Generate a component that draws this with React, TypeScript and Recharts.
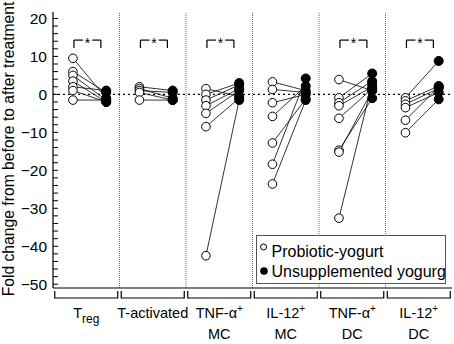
import {
  ComposedChart,
  Line,
  Scatter,
  XAxis,
  YAxis,
  ReferenceLine,
  ReferenceDot,
  Legend
} from 'recharts';

// one entry per cell population (panel)
const xLabelMain = ['T', 'T-activated', 'TNF-α', 'IL-12', 'TNF-α', 'IL-12'];
const xLabelSub = ['reg', '', '', '', '', ''];
const xLabelSup = ['', '', '+', '+', '+', '+'];
const xLabelLine2 = ['', '', 'MC', 'MC', 'DC', 'DC'];

// fold change, before (probiotic-yogurt) and after (unsupplemented yogurt)
const tregBefore = [9.5, 6, 5, 3.5, 2, 1, -1.5];
const tregAfter = [-1, 0.5, -1.5, -2, 1, -2, -1.5];
const tActBefore = [2, 1.5, 1, 0.5, -1.5];
const tActAfter = [1, -1, 0.5, -1.5, -1.5];
const tnfMcBefore = [1.5, 0, -1.5, -3, -5, -8.5, -42.5];
const tnfMcAfter = [-0.5, 3, 2.5, 1.5, 1, -1, -1.5];
const il12McBefore = [3.3, 1.3, -2.2, -5.8, -12.8, -18.4, -23.6];
const il12McAfter = [1, 0.5, 0, 2.2, -1.2, 4.2, -1.5];
const tnfDcBefore = [3.9, -0.9, -2.2, -3, -6.3, -14.7, -15.2, -32.6];
const tnfDcAfter = [1, 5.5, 3.5, 2, 1.5, -1, 1, 3];
const il12DcBefore = [-0.9, -1.7, -2.6, -3.5, -6.8, -10.1];
const il12DcAfter = [8.8, 2.2, 1.6, 0.5, 2, -1.3];

const befores = [tregBefore, tActBefore, tnfMcBefore, il12McBefore, tnfDcBefore, il12DcBefore];
const afters = [tregAfter, tActAfter, tnfMcAfter, il12McAfter, tnfDcAfter, il12DcAfter];

// panels with a significance bracket
const sigPanels = [0, 1, 2, 4, 5];

const yTicks = Array.from({ length: 36 }, (_, i) => -50 + i * 2);
const xTicks = [0.5, 1.5, 2.5, 3.5, 4.5, 5.5];

const BEFORE_X = 0.3;
const AFTER_X = 0.8;
const SIG_Y = 14.3;
const SIG_Y_LOW = 12.2;

const font = '"Liberation Sans", Arial, Helvetica, sans-serif';

const beforePts = befores.flatMap((vals, i) => vals.map((y) => ({ x: i + BEFORE_X, y })));
const afterPts = afters.flatMap((vals, i) => vals.map((y) => ({ x: i + AFTER_X, y })));
const pairs = befores.flatMap((vals, i) =>
  vals.map((y, j) => [
    { x: i + BEFORE_X, y },
    { x: i + AFTER_X, y: afters[i][j] }
  ])
);

function YTick({ x, y, payload }: any) {
  const v = payload.value;
  const major = v % 10 === 0;
  return (
    <g>
      <line x1={x + 6} x2={x + 11} y1={y} y2={y} stroke="#000" strokeWidth={1} />
      {major && (
        <text x={x} y={y} dy={5.5} textAnchor="end" fontSize={15.5} fontFamily={font} fill="#000">
          {v < 0 ? '\u2212' + Math.abs(v) : v}
        </text>
      )}
    </g>
  );
}

function XTick({ x, y, payload }: any) {
  const i = xTicks.indexOf(payload.value);
  if (i < 0) return null;
  return (
    <g>
      <path
        d={`M${x - 31.5},${y + 3} V${y + 10} H${x + 31.5} V${y + 3}`}
        fill="none"
        stroke="#000"
        strokeWidth={1.2}
      />
      <text x={x} y={y + 30} textAnchor="middle" fontSize={14.5} fontFamily={font} fill="#000">
        {xLabelMain[i]}
        {xLabelSub[i] && (
          <tspan dy={5} fontSize={12}>
            {xLabelSub[i]}
          </tspan>
        )}
        {xLabelSup[i] && (
          <tspan dy={-6} fontSize={10}>
            {xLabelSup[i]}
          </tspan>
        )}
      </text>
      {xLabelLine2[i] && (
        <text x={x} y={y + 51} textAnchor="middle" fontSize={14.5} fontFamily={font} fill="#000">
          {xLabelLine2[i]}
        </text>
      )}
    </g>
  );
}

function LegendBox() {
  return (
    <div
      style={{
        width: 190,
        height: 49,
        boxSizing: 'border-box',
        border: '1px solid #555',
        background: '#fff'
      }}
    >
      <svg width={188} height={47} style={{ display: 'block' }}>
        <circle cx={6.5} cy={11} r={3} fill="#fff" stroke="#000" strokeWidth={1} />
        <text x={14.5} y={21} fontSize={16} fontFamily={font} fill="#000">
          Probiotic-yogurt
        </text>
        <circle cx={7} cy={35} r={3.8} fill="#000" />
        <text x={14.5} y={41} fontSize={16} fontFamily={font} fill="#000">
          Unsupplemented yogurg
        </text>
      </svg>
    </div>
  );
}

const openDot = (p: any) => (
  <circle cx={p.cx} cy={p.cy} r={4.3} fill="#fff" stroke="#000" strokeWidth={1} />
);
const filledDot = (p: any) => <circle cx={p.cx} cy={p.cy} r={4.5} fill="#000" stroke="#000" />;

export default function App() {
  return (
    <div style={{ position: 'absolute', left: 0, top: 0 }}>
      <ComposedChart width={454} height={344} margin={{ top: 12, right: 2, left: 0, bottom: 0 }}>
        <XAxis
          type="number"
          dataKey="x"
          domain={[0, 6]}
          ticks={xTicks}
          tick={<XTick />}
          tickSize={0}
          tickMargin={0}
          height={56}
          interval={0}
          axisLine={{ stroke: '#000', strokeWidth: 1.2 }}
          tickLine={false}
        />
        <XAxis
          xAxisId="top"
          orientation="top"
          type="number"
          domain={[0, 6]}
          height={0}
          tick={false}
          tickLine={false}
          axisLine={{ stroke: '#000', strokeWidth: 1.2 }}
        />
        <YAxis
          type="number"
          domain={[-51, 21.7]}
          ticks={yTicks}
          interval={0}
          tick={<YTick />}
          tickSize={0}
          tickMargin={6}
          tickLine={false}
          width={53}
          allowDataOverflow
          axisLine={{ stroke: '#000', strokeWidth: 1.2 }}
          label={{
            content: ({ viewBox }: any) => {
              const cx = viewBox.x + 8;
              const cy = viewBox.y + viewBox.height / 2 - 1;
              return (
                <text
                  x={cx}
                  y={cy}
                  transform={`rotate(-90, ${cx}, ${cy})`}
                  textAnchor="middle"
                  dominantBaseline="central"
                  fontSize={15.7}
                  fontFamily={font}
                  fill="#000"
                >
                  Fold change from before to after treatment
                </text>
              );
            }
          }}
        />
        <YAxis
          yAxisId="right"
          orientation="right"
          type="number"
          domain={[-51, 21.7]}
          width={0}
          tick={false}
          tickLine={false}
          axisLine={{ stroke: '#000', strokeWidth: 1.2 }}
        />
        {[1, 2, 3, 4, 5].map((v) => (
          <ReferenceLine key={`div${v}`} x={v} stroke="#666" strokeDasharray="1 1" />
        ))}
        <ReferenceLine y={0} stroke="#000" strokeWidth={1.3} strokeDasharray="2 3" />
        {sigPanels.flatMap((i) => [
          <ReferenceLine
            key={`sl${i}`}
            segment={[
              { x: i + 0.315, y: SIG_Y },
              { x: i + 0.45, y: SIG_Y }
            ]}
            stroke="#000"
            strokeWidth={1.2}
          />,
          <ReferenceLine
            key={`sr${i}`}
            segment={[
              { x: i + 0.59, y: SIG_Y },
              { x: i + 0.72, y: SIG_Y }
            ]}
            stroke="#000"
            strokeWidth={1.2}
          />,
          <ReferenceLine
            key={`sa${i}`}
            segment={[
              { x: i + 0.315, y: SIG_Y },
              { x: i + 0.315, y: SIG_Y_LOW }
            ]}
            stroke="#000"
            strokeWidth={1.2}
          />,
          <ReferenceLine
            key={`sb${i}`}
            segment={[
              { x: i + 0.72, y: SIG_Y },
              { x: i + 0.72, y: SIG_Y_LOW }
            ]}
            stroke="#000"
            strokeWidth={1.2}
          />,
          <ReferenceDot
            key={`st${i}`}
            x={i + 0.52}
            y={SIG_Y}
            r={0}
            shape={(p: any) => (
              <text x={p.cx} y={p.cy + 8} textAnchor="middle" fontSize={14} fontFamily={font}>
                *
              </text>
            )}
          />
        ])}
        {pairs.map((d, k) => (
          <Line
            key={`p${k}`}
            data={d}
            dataKey="y"
            stroke="#000"
            strokeWidth={0.8}
            dot={false}
            activeDot={false}
            isAnimationActive={false}
            legendType="none"
          />
        ))}
        <Scatter data={beforePts} dataKey="y" shape={openDot} isAnimationActive={false} />
        <Scatter data={afterPts} dataKey="y" shape={filledDot} isAnimationActive={false} />
        <Legend
          layout="horizontal"
          verticalAlign="middle"
          align="center"
          wrapperStyle={{ position: 'absolute', left: 256, top: 235, width: 190, height: 49 }}
          content={() => <LegendBox />}
        />
      </ComposedChart>
    </div>
  );
}
